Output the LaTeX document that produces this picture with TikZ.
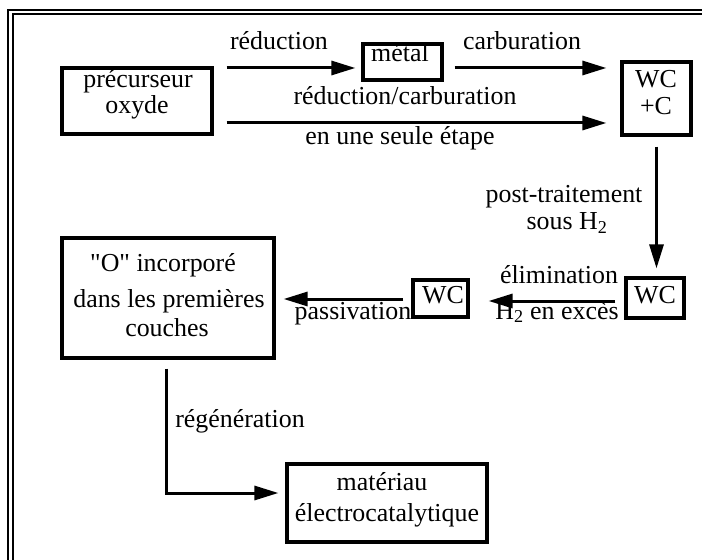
\documentclass[tikz,border=0pt]{standalone}
\usepackage{fontspec}
\setmainfont{Liberation Serif}
\usetikzlibrary{arrows.meta,calc}
\begin{document}
\begin{tikzpicture}[x=1bp,y=-1bp,
  box/.style={draw, line width=3.2bp, inner sep=0pt},
  lbl/.style={anchor=base, inner sep=0pt, font=\fontsize{26}{30}\selectfont},
  arr/.style={line width=3bp, -{Triangle[length=24bp,width=14bp]}},
  frameline/.style={line width=1.8bp}]
\useasboundingbox (0,0) rectangle (702,560);

% double frame along the top and left edges
\draw[frameline] (8,560) -- (8,10) -- (702,10);
\draw[frameline] (13,560) -- (13,14) -- (702,14);

% boxes
\node[box, minimum width=150bp, minimum height=66bp] (pre) at (137,101) {};
\node[box, minimum width=79bp,  minimum height=36bp] (met) at (402.5,62) {};
\node[box, minimum width=69bp,  minimum height=73bp] (wcc) at (656.5,98.5) {};
\node[box, minimum width=58bp,  minimum height=40bp] (wc1) at (655,298) {};
\node[box, minimum width=55bp,  minimum height=37bp] (wc2) at (440.5,298.5) {};
\node[box, minimum width=212bp, minimum height=120bp] (ob) at (168,298) {};
\node[box, minimum width=200bp, minimum height=78bp] (mat) at (387,503) {};

% box texts
\node[lbl] (preA) at (138,88) {précurseur};
\node[lbl] (preB) at (137,114) {oxyde};
\node[lbl] (metA) at (400,62) {métal};
\node[lbl] (wccA) at (656,88) {WC};
\node[lbl] (wccB) at (656,115) {+C};
\node[lbl] (wc1A) at (655,303) {WC};
\node[lbl] (wc2A) at (443,303) {WC};
\node[lbl] (obA) at (163,272) {\textquotedbl O\textquotedbl{} incorporé};
\node[lbl] (obB) at (169,307) {dans les premières};
\node[lbl] (obC) at (167,336) {couches};
\node[lbl] (matA) at (382,490) {matériau};
\node[lbl] (matB) at (387,521) {électrocatalytique};

% arrow labels
\node[lbl] (lRed) at (279,50) {réduction};
\node[lbl] (lCarb) at (522,50) {carburation};
\node[lbl] (lRC) at (405,105) {réduction/carburation};
\node[lbl] (lEtape) at (400,145) {en une seule étape};
\node[lbl] (lPost) at (564,203) {post-traitement};
\node[lbl] (lSous) at (567,230) {sous H\textsubscript{2}};
\node[lbl] (lElim) at (559,283) {élimination};
\node[lbl] (lExc) at (557,319) {H\textsubscript{2} en excès};
\node[lbl] (lPass) at (353,319) {passivation};
\node[lbl] (lReg) at (240,427) {régénération};

% arrow rows
\coordinate (r1) at (0,68);
\coordinate (r2) at (0,123);
\coordinate (r3) at (0,301);
\coordinate (r4) at (0,299);

% connectors
\draw[arr] ($(pre.east|-r1)+(13,0)$) -- ($(met.west|-r1)+(-6,0)$);
\draw[arr] ($(met.east|-r1)+(11,0)$) -- ($(wcc.west|-r1)+(-14,0)$);
\draw[arr] ($(pre.east|-r2)+(13,0)$) -- ($(wcc.west|-r2)+(-14,0)$);
\draw[arr] ($(wcc.south)+(0,10)$) -- ($(wcc.south|-wc1.north)+(0,-8)$);
\draw[arr] ($(wc1.west|-r3)+(-9,0)$) -- ($(wc2.east|-r3)+(19,0)$);
\draw[arr] ($(wc2.west|-r4)+(-8,0)$) -- ($(ob.east|-r4)+(8,0)$);
\draw[arr] ($(ob.south)+(-2,9)$) |- ($(mat.west)+(-7,-10)$);
\end{tikzpicture}
\end{document}
